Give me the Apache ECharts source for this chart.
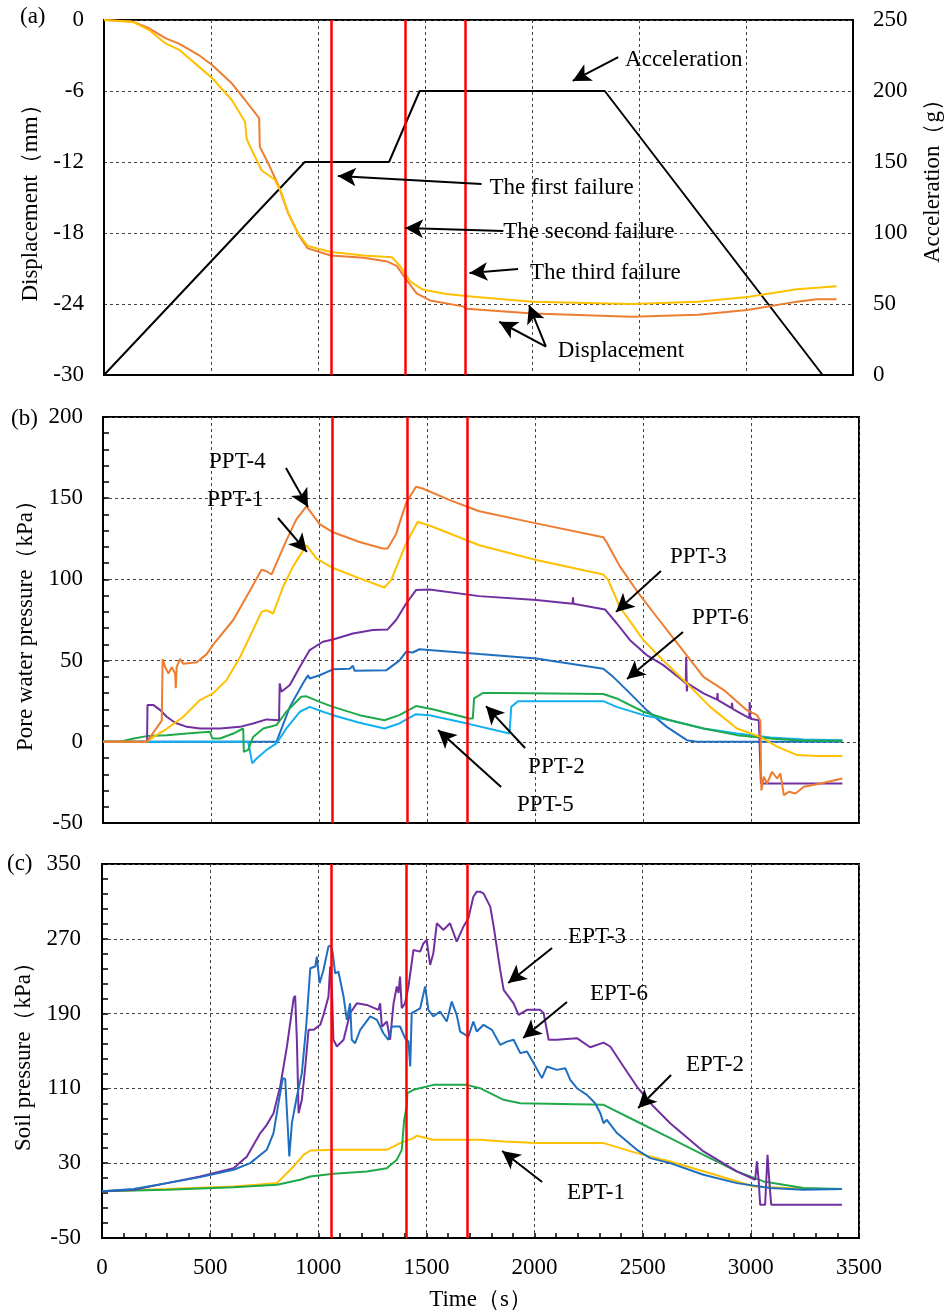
<!DOCTYPE html>
<html>
<head>
<meta charset="utf-8">
<script src="https://cdn.jsdelivr.net/npm/echarts@6/dist/echarts.min.js"></script>
<style>html,body{margin:0;padding:0;background:#fff}#c{width:952px;height:1313px}</style>
</head>
<body>
<div id="c"></div>
<script>
// ---------- DATA ----------
const xTicks = [0, 500, 1000, 1500, 2000, 2500, 3000, 3500];
const failureTimes = [1062, 1408, 1687];

// (a) acceleration (g) and displacement (mm)
const accel = [[0,0],[938,150],[1332,150],[1475,200],[2340,200],[3358,0]];
const dispOrange = [[0,0],[134,-0.14],[211,-0.7],[289,-1.55],[350,-2.0],[443,-2.96],[505,-3.8],[597,-5.35],[659,-6.76],[725,-8.3],[728,-10.7],[767,-12.1],[813,-13.9],[860,-16.3],[914,-18.3],[952,-19.3],[1060,-19.9],[1215,-20.1],[1323,-20.4],[1369,-20.8],[1415,-22.0],[1461,-23.1],[1523,-23.7],[1677,-24.2],[1694,-24.4],[2003,-24.8],[2466,-25.07],[2775,-24.9],[3006,-24.5],[3238,-23.8],[3330,-23.6],[3423,-23.6]];
const dispYellow = [[0,0],[134,-0.14],[211,-0.85],[289,-2.0],[350,-2.5],[443,-3.94],[505,-4.9],[597,-6.76],[659,-8.6],[667,-10.1],[736,-12.7],[798,-13.5],[829,-14.6],[860,-16.3],[906,-18.0],[952,-19.1],[1060,-19.6],[1215,-19.9],[1346,-20.05],[1384,-20.8],[1431,-22.1],[1492,-22.8],[1600,-23.15],[1739,-23.4],[2003,-23.8],[2466,-24.0],[2775,-23.8],[3006,-23.4],[3238,-22.76],[3423,-22.5]];

// (b) pore water pressure (kPa)
const ppt4 = [[0,0],[203,0],[272,13],[274,13],[276,51],[288,46],[303,42],[318,46],[334,42],[337,33],[341,46],[357,51],[372,48],[434,49],[480,54],[511,60],[603,75],[680,93],[734,106],[757,105],[780,103],[803,110],[849,124],[895,137],[942,145],[1003,134],[1065,129],[1188,123],[1295,119],[1318,119],[1357,128],[1403,147],[1449,157],[1480,156],[1603,149],[1742,142],[2006,134.5],[2316,126],[2331,123],[2393,108],[2471,93],[2563,77],[2672,58.5],[2780,40],[2873,32],[2981,19.5],[3028,16.4],[3036,17.5],[3043,13],[3048,-30],[3059,-21.5],[3074,-25.7],[3097,-18.5],[3121,-22.6],[3136,-19.5],[3152,-32.8],[3175,-30.8],[3206,-31.8],[3245,-27.7],[3322,-25.7],[3423,-22.6]];
const ppt1 = [[0,0],[203,0],[234,3],[295,8],[372,15.4],[449,25.7],[511,30],[572,38],[634,52],[695,69],[734,80],[757,81],[788,79],[834,95.5],[880,108],[942,121],[988,113],[1065,107],[1188,100.6],[1303,95],[1334,99.6],[1403,122],[1457,135.5],[1526,132.4],[1742,121],[2006,112],[2316,103],[2339,99.6],[2393,83],[2502,62.6],[2594,50],[2703,36],[2811,21.5],[2935,8.2],[3043,3],[3121,-3],[3214,-8.2],[3307,-8.8],[3423,-8.8]];
const ppt3 = [[0,0],[204,0],[206,22.6],[234,22.6],[265,19.5],[295,15.4],[334,11.7],[388,9.2],[449,8.2],[542,8.2],[634,9.2],[695,11.3],[757,13.8],[815,13.3],[818,36],[826,30.8],[865,35],[911,46],[957,56.5],[1018,61.6],[1065,63],[1157,66.7],[1249,68.8],[1318,69.2],[1357,75],[1403,85],[1449,93.4],[1511,93.8],[1742,89.7],[2006,87.3],[2174,85],[2176,89],[2178,85],[2324,81.5],[2378,73],[2440,62.6],[2517,53.4],[2594,47.2],[2672,39],[2698,36],[2700,52.4],[2703,31],[2706,36],[2780,29.8],[2843,26],[2845,30],[2847,25.7],[2910,20.8],[2912,24],[2915,20.3],[2992,14.6],[2994,24.5],[2997,14.2],[3036,13.3],[3046,-25.7],[3423,-25.7]];
const ppt6 = [[0,0],[803,0],[811,0.6],[865,21.5],[926,36],[949,41],[957,39],[1003,41],[1065,44.6],[1142,45],[1157,46.8],[1165,43.7],[1311,44],[1372,50],[1403,55.4],[1434,55],[1465,57],[1742,54],[2006,51.3],[2316,45],[2362,40],[2440,29.8],[2517,19.5],[2610,9.2],[2703,1],[2749,0],[3423,0]];
const ppt2 = [[0,0],[80,0],[142,2],[203,3.5],[295,4.1],[388,5.1],[495,6.2],[506,2],[542,2],[603,5.1],[649,8.2],[652,-6.2],[672,-5],[695,3],[742,8.2],[803,10.3],[849,18.5],[918,27.7],[942,28],[1003,24.6],[1065,21.5],[1188,16.4],[1303,13.3],[1372,16.4],[1449,22],[1526,20],[1697,14.4],[1712,14.4],[1718,26.7],[1758,30],[1851,30],[2316,29.4],[2378,26.7],[2502,18.5],[2625,13.3],[2780,8.2],[2935,4.1],[3090,2],[3245,0.6],[3423,0.6]];
const ppt5 = [[0,0],[672,0],[680,1],[691,-13.3],[711,-10.3],[757,-5],[803,-1],[849,8.2],[911,18.5],[957,21.5],[1018,18.5],[1065,16.4],[1188,11.7],[1303,8.2],[1372,11.3],[1449,17],[1511,16.4],[1697,10.9],[1882,5.1],[1890,21.5],[1921,25],[2316,25],[2378,21.5],[2502,16.4],[2625,13.3],[2780,8.2],[2935,5.1],[3090,2.7],[3245,1.4],[3423,1]];

// (c) soil pressure (kPa)
const ept1 = [[0,0],[300,2.3],[608,5],[716,7],[809,8.7],[839,15.8],[886,26.5],[932,39],[963,43.6],[1070,44.3],[1317,44.3],[1378,51.5],[1440,56.8],[1455,59.3],[1532,55],[1748,55],[1857,53.2],[2011,51.5],[2319,51.5],[2473,40.8],[2627,31.8],[2835,17.6],[3012,5.1],[3166,3.4],[3320,2.3],[3421,2.3]];
const ept2 = [[0,0],[300,1.6],[608,4.4],[809,6.9],[916,12.3],[963,15.8],[1070,18.7],[1224,21.2],[1317,24.7],[1363,33.6],[1386,44.3],[1397,76.4],[1409,90.6],[1412,104.9],[1440,108.5],[1532,113.8],[1686,113.8],[1748,110.2],[1764,108.5],[1857,97.8],[1934,94.2],[2319,92.4],[2473,74.6],[2627,56.8],[2781,39],[2935,21.2],[3059,10.5],[3243,3.4],[3421,2.3]];
const ept3 = [[0,0],[146,1.6],[300,8.7],[454,15.8],[608,24.7],[670,37.2],[732,62.2],[762,71.1],[793,83.5],[824,112],[855,154.8],[886,206.4],[893,209],[901,162],[909,83.5],[924,97.8],[940,133.4],[955,172.6],[978,172.6],[1009,178],[1024,188.6],[1047,208],[1055,240.3],[1063,215.3],[1070,162],[1086,154.8],[1117,162],[1147,190.4],[1178,201],[1224,199.3],[1278,194],[1286,201],[1294,176],[1317,181.5],[1332,162],[1348,201],[1363,219],[1371,212],[1378,229.6],[1386,195.7],[1401,201],[1417,219],[1440,258],[1471,256.3],[1486,265],[1501,268.8],[1517,242],[1532,254.5],[1548,286.6],[1579,279.5],[1609,286.6],[1640,267],[1671,283],[1694,292],[1717,315],[1733,320.4],[1748,320.4],[1764,318.6],[1795,304.4],[1811,283],[1841,236.7],[1857,215.3],[1903,201],[1926,188.6],[1965,194],[2026,194],[2042,190.4],[2065,162],[2103,162],[2196,163.7],[2257,154],[2319,159],[2350,154.8],[2411,133.4],[2473,112],[2550,90.6],[2627,72.8],[2781,42.6],[2935,21.2],[3020,12.3],[3028,31.9],[3036,12.3],[3043,-14.4],[3066,-14.4],[3077,39],[3086,8.7],[3094,-14.4],[3421,-14.4]];
const ept6 = [[0,0],[146,2.3],[300,8.7],[454,15.1],[608,23],[685,30.1],[762,44.3],[793,62.2],[816,94.2],[836,121],[847,120],[858,72.8],[866,37.2],[878,72.8],[901,101.3],[924,126.3],[944,176.2],[963,238.5],[986,240.3],[993,251],[1006,222.5],[1024,236.7],[1047,261.7],[1058,263],[1067,254.5],[1078,233],[1093,235],[1117,208],[1132,183.3],[1147,201],[1155,162],[1170,158.3],[1194,172.6],[1240,187],[1271,183.3],[1301,169],[1324,162],[1340,176.2],[1378,176.2],[1401,163.7],[1417,160.1],[1425,133.4],[1432,190.4],[1471,195.7],[1494,219],[1509,194],[1532,187],[1563,192.2],[1594,181.5],[1617,202.9],[1640,188.6],[1656,170.8],[1694,165.4],[1717,181.5],[1733,170.8],[1764,178],[1803,172.6],[1841,156.6],[1872,160],[1903,162],[1934,147.7],[1965,149.5],[1996,137],[2034,121],[2057,133.4],[2103,129.8],[2142,131.6],[2165,119.2],[2196,110.2],[2242,103.1],[2280,94.2],[2304,83.5],[2319,72.8],[2334,76.4],[2381,62.2],[2473,44.3],[2535,35.4],[2627,30.1],[2781,17.6],[2935,8.7],[3089,3.4],[3243,1.6],[3421,2.3]];

// annotation texts [label, x, y] and arrows [x1, y1, x2(head), y2(head)] in data units
const annA = [['Acceleration',2435,-3.38],['The first failure',1801,-14.2],['The second failure',1866,-17.9],['The third failure',1991,-21.4],['Displacement',2120,-27.97]];
const arrA = [[2403,-3.13,2190,-5.15],[1764,-13.86,1093,-13.18],[1866,-17.83,1407,-17.58],[1935,-21.04,1708,-21.38],[2065,-27.6,1847,-25.5],[2065,-27.6,1986,-24.1]];
const annB = [['PPT-4',491,172.3],['PPT-1',481,148.9],['PPT-3',2625,113.8],['PPT-6',2727,76.2],['PPT-2',1968,-15.5],['PPT-5',1917,-38.9]];
const arrB = [[847,168.6,949,144.6],[810,137.8,944,116.9],[2583,105.2,2375,80],[2685,67.6,2426,38.7],[1954,-3.8,1773,22],[1843,-27.8,1551,7.3]];
const annC = [['EPT-3',2155,271.9],['EPT-6',2256,211],['EPT-2',2700,135],['EPT-1',2150,-1.9]];
const arrC = [[2081,260.2,1878,222.7],[2150,202.4,1947,164],[2631,124.3,2479,89],[2035,9.9,1850,43]];

// ---------- STYLE ----------
const FONT = 'Liberation Serif';
const FS = 23;
const C = {orange:'#ED7D31', yellow:'#FFC000', purple:'#7030A0', blue:'#1F6FC0', green:'#1FAA4A', lblue:'#12B0EE'};
const grids = [
  {left:104, top:20, width:756, height:355},
  {left:103, top:417, width:756, height:406},
  {left:102, top:864, width:757, height:374}
];
const dashed = {show:true, lineStyle:{color:'#444', type:[3,3], width:1}};
const axisLine = {show:true, onZero:false, lineStyle:{color:'#000', width:2}};
const lbl = {color:'#000', fontFamily:FONT, fontSize:FS, formatter:v=>String(v)};
const nameStyle = {color:'#000', fontFamily:FONT, fontSize:FS};

function xAx(i){
  return {type:'value', gridIndex:i, min:0, max:3500, interval:500,
    axisLine, splitLine:dashed,
    axisTick:{show:i===2, inside:true, length:5, lineStyle:{color:'#000', width:1.5}},
    minorTick:{show:i===2, splitNumber:5, length:5, lineStyle:{color:'#000', width:1.5}},
    axisLabel:{show:i===2, margin:18, ...lbl},
    name: i===2 ? 'Time（s）' : '', nameLocation:'middle', nameGap:50, nameTextStyle:nameStyle};
}
function line(name, data, color, xi, yi, w){
  return {name, type:'line', data, xAxisIndex:xi, yAxisIndex:yi, showSymbol:false, symbol:'none',
    lineStyle:{color, width:w||2}, itemStyle:{color}, silent:true, z:3};
}
function redLines(xi, yi){
  return {type:'line', data:[], xAxisIndex:xi, yAxisIndex:yi, silent:true,
    markLine:{silent:true, symbol:'none', animation:false, label:{show:false},
      lineStyle:{color:'#FF0000', width:2.5, type:'solid'},
      data: failureTimes.map(t=>({xAxis:t}))}, z:5};
}
function annots(xi, yi, texts, arrows){
  return {type:'line', data:[], xAxisIndex:xi, yAxisIndex:yi, silent:true, z:6,
    markLine:{silent:true, animation:false, symbol:['none','arrow'], symbolSize:[14,18], label:{show:false},
      lineStyle:{color:'#000', width:2, type:'solid'},
      data: arrows.map(a=>[{coord:[a[0],a[1]]},{coord:[a[2],a[3]]}])},
    markPoint:{silent:true, animation:false, symbol:'circle', symbolSize:0,
      label:{show:true, position:'right', distance:0, formatter:p=>p.name, color:'#000', fontFamily:FONT, fontSize:FS},
      data: texts.map(t=>({name:t[0], coord:[t[1],t[2]]}))}};
}

const chart = echarts.init(document.getElementById('c'), null, {renderer:'canvas'});
chart.setOption({
  animation:false,
  backgroundColor:'#fff',
  grid: grids.map(g=>({...g, show:true, borderColor:'#000', borderWidth:2, backgroundColor:'transparent'})),
  xAxis:[xAx(0), xAx(1), xAx(2)],
  yAxis:[
    {type:'value', gridIndex:0, min:-30, max:0, interval:6, axisLine, splitLine:dashed,
      axisTick:{show:false}, axisLabel:{margin:20, ...lbl},
      name:'Displacement（mm）', nameLocation:'middle', nameRotate:90, nameGap:56, nameTextStyle:nameStyle},
    {type:'value', gridIndex:0, position:'right', min:0, max:250, interval:50, axisLine, splitLine:{show:false},
      axisTick:{show:false}, axisLabel:{margin:20, ...lbl},
      name:'Acceleration（g）', nameLocation:'middle', nameRotate:90, nameGap:68, nameTextStyle:{...nameStyle, padding:[0,0,0,44]}},
    {type:'value', gridIndex:1, min:-50, max:200, interval:50, axisLine, splitLine:dashed,
      axisTick:{show:true, inside:true, length:6, lineStyle:{color:'#000', width:1.5}},
      minorTick:{show:true, splitNumber:5, length:6, lineStyle:{color:'#000', width:1.5}},
      axisLabel:{margin:20, ...lbl},
      name:'Pore water pressure（kPa）', nameLocation:'middle', nameRotate:90, nameGap:61, nameTextStyle:nameStyle},
    {type:'value', gridIndex:2, min:-50, max:350, interval:80, axisLine, splitLine:dashed,
      axisTick:{show:true, inside:true, length:6, lineStyle:{color:'#000', width:1.5}},
      minorTick:{show:true, splitNumber:5, length:6, lineStyle:{color:'#000', width:1.5}},
      axisLabel:{margin:21, ...lbl},
      name:'Soil pressure（kPa）', nameLocation:'middle', nameRotate:90, nameGap:61, nameTextStyle:nameStyle}
  ],
  series:[
    line('Acceleration', accel, '#000', 0, 1, 2),
    line('Disp-1', dispOrange, C.orange, 0, 0, 2),
    line('Disp-2', dispYellow, C.yellow, 0, 0, 2),
    redLines(0, 0),
    annots(0, 0, annA, arrA),

    line('PPT-6', ppt6, C.blue, 1, 2),
    line('PPT-5', ppt5, C.lblue, 1, 2),
    line('PPT-2', ppt2, C.green, 1, 2),
    line('PPT-3', ppt3, C.purple, 1, 2),
    line('PPT-1', ppt1, C.yellow, 1, 2),
    line('PPT-4', ppt4, C.orange, 1, 2),
    redLines(1, 2),
    annots(1, 2, annB, arrB),

    line('EPT-1', ept1, C.yellow, 2, 3),
    line('EPT-2', ept2, C.green, 2, 3),
    line('EPT-3', ept3, C.purple, 2, 3),
    line('EPT-6', ept6, C.blue, 2, 3),
    redLines(2, 3),
    annots(2, 3, annC, arrC)
  ],
  graphic:[
    {type:'text', left:20, top:5, style:{text:'(a)', font:FS+'px Liberation Serif', fill:'#000'}},
    {type:'text', left:11, top:407, style:{text:'(b)', font:FS+'px Liberation Serif', fill:'#000'}},
    {type:'text', left:7, top:852, style:{text:'(c)', font:FS+'px Liberation Serif', fill:'#000'}}
  ]
});
</script>
</body>
</html>
